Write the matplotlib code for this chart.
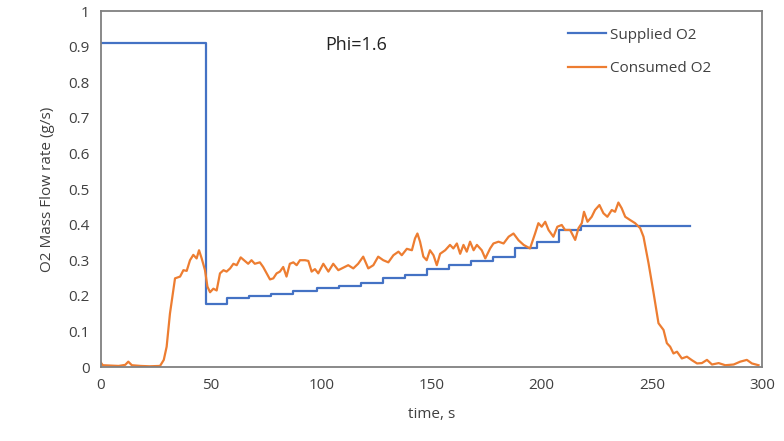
import numpy as np
import matplotlib.pyplot as plt

#%% data

# supplied O2, step values (drawn steps-post)
t_sup = [0, 47.5, 57, 67, 77, 87, 98, 108, 118, 128, 138, 148, 158, 168, 178,
         188, 198, 208, 218, 267.5]
v_sup = [0.91, 0.178, 0.195, 0.200, 0.206, 0.213, 0.222, 0.228, 0.237, 0.250,
         0.258, 0.274, 0.286, 0.297, 0.310, 0.334, 0.352, 0.385, 0.395, 0.395]

# consumed O2
t_con = [0, 0.8, 4, 8, 11, 12.4, 14, 18, 22, 26.8, 28.5, 29.8, 31.3, 33.6, 35.9,
         37.4, 38.9, 40.4, 41.9, 43.4, 44.5, 45.7, 47.2, 48.3, 49.5, 51, 52.5,
         54, 55.6, 57, 58.6, 60.1, 61.6, 63.4, 64.9, 66.8, 68.3, 69.8, 72.1,
         73.6, 75.2, 76.7, 78.2, 79.7, 81.2, 82.7, 84.2, 85.7, 87.3, 88.8, 90.3,
         92.6, 94.1, 95.6, 97.1, 98.6, 100.9, 103.2, 105.4, 107.7, 109.9, 112.2,
         114.5, 116.7, 119, 121.3, 123.6, 125.8, 128.1, 130.4, 132.7, 135,
         136.5, 138.8, 141.1, 142.5, 143.6, 144.8, 146.3, 147.8, 149.3, 150.9,
         152.4, 153.9, 156.2, 158.4, 159.9, 161.5, 163, 164.5, 166, 167.5,
         169.1, 170.6, 172.8, 174.4, 176.6, 178.1, 180.4, 182.7, 185, 187.2,
         189.5, 191.8, 194.7, 197, 198.5, 200, 201.6, 203.1, 205.3, 207.1,
         209.1, 210.6, 212.9, 215.2, 216.7, 218.2, 219.2, 220.8, 222.7, 224.2,
         226.2, 228, 229.8, 231.8, 233.3, 234.8, 236.3, 237.9, 240.1, 242.4,
         244.7, 246.2, 248.5, 250.8, 253, 255.3, 256.8, 258.3, 259.8, 261.4,
         263.6, 265.9, 268.2, 270.5, 272.7, 275, 277.3, 280.3, 283.3, 287.1,
         290.1, 293.1, 295.4, 298.4]
v_con = [0.012, 0.005, 0.004, 0.003, 0.006, 0.015, 0.005, 0.003, 0.002, 0.003,
         0.02, 0.057, 0.15, 0.249, 0.254, 0.272, 0.27, 0.30, 0.315, 0.305,
         0.328, 0.305, 0.272, 0.226, 0.21, 0.22, 0.215, 0.263, 0.272, 0.268,
         0.277, 0.29, 0.286, 0.308, 0.30, 0.29, 0.30, 0.29, 0.294, 0.281, 0.263,
         0.246, 0.249, 0.263, 0.268, 0.281, 0.254, 0.29, 0.294, 0.286, 0.30,
         0.30, 0.298, 0.268, 0.275, 0.263, 0.29, 0.268, 0.29, 0.272, 0.279,
         0.286, 0.277, 0.29, 0.31, 0.277, 0.286, 0.31, 0.30, 0.294, 0.314,
         0.324, 0.314, 0.332, 0.328, 0.361, 0.375, 0.352, 0.31, 0.30, 0.328,
         0.314, 0.286, 0.318, 0.328, 0.343, 0.333, 0.347, 0.318, 0.343, 0.324,
         0.352, 0.328, 0.343, 0.328, 0.305, 0.333, 0.347, 0.352, 0.347, 0.366,
         0.375, 0.356, 0.343, 0.333, 0.375, 0.404, 0.394, 0.408, 0.385, 0.366,
         0.394, 0.399, 0.385, 0.385, 0.357, 0.39, 0.404, 0.436, 0.408, 0.422,
         0.441, 0.455, 0.432, 0.422, 0.441, 0.436, 0.462, 0.446, 0.422, 0.413,
         0.404, 0.39, 0.366, 0.291, 0.207, 0.123, 0.104, 0.067, 0.057, 0.038,
         0.043, 0.024, 0.029, 0.019, 0.01, 0.011, 0.02, 0.007, 0.011, 0.005,
         0.007, 0.015, 0.02, 0.01, 0.005]

#%% plot

plt.rcParams['font.family'] = ['Open Sans', 'DejaVu Sans']
txt = '#404040'

fig = plt.figure(figsize=(7.84, 4.41), dpi=100)
ax = fig.add_axes([0.1288, 0.1678, 0.8432, 0.8072])

ax.plot(t_sup, v_sup, drawstyle='steps-post', color='#4472C4', lw=1.6,
        label='Supplied O2')
ax.plot(t_con, v_con, color='#ED7D31', lw=1.6, label='Consumed O2')

ax.set_xlim(0, 300)
ax.set_ylim(0, 1)
ax.set_xticks(np.arange(0, 301, 50))
ax.set_yticks(np.arange(0, 1.01, 0.1))
ax.set_yticklabels(['0', '0.1', '0.2', '0.3', '0.4', '0.5', '0.6', '0.7',
                    '0.8', '0.9', '1'])
ax.tick_params(length=0, labelsize=11, labelcolor=txt, pad=8)
for s in ax.spines.values():
    s.set_color('#808080')
    s.set_linewidth(1.3)

ax.set_xlabel('time, s', fontsize=11, color=txt, labelpad=10)
ax.set_ylabel('O2 Mass Flow rate (g/s)', fontsize=11, color=txt, labelpad=10)
ax.text(116, 0.905, 'Phi=1.6', fontsize=13, color='#222222',
        ha='center', va='center')

ax.legend(loc='upper left', bbox_to_anchor=(0.695, 0.975), frameon=False,
          fontsize=11, handlelength=2.5, handletextpad=0.25, labelspacing=1.2,
          borderpad=0, labelcolor=txt)

plt.savefig('out.png', dpi=100)
